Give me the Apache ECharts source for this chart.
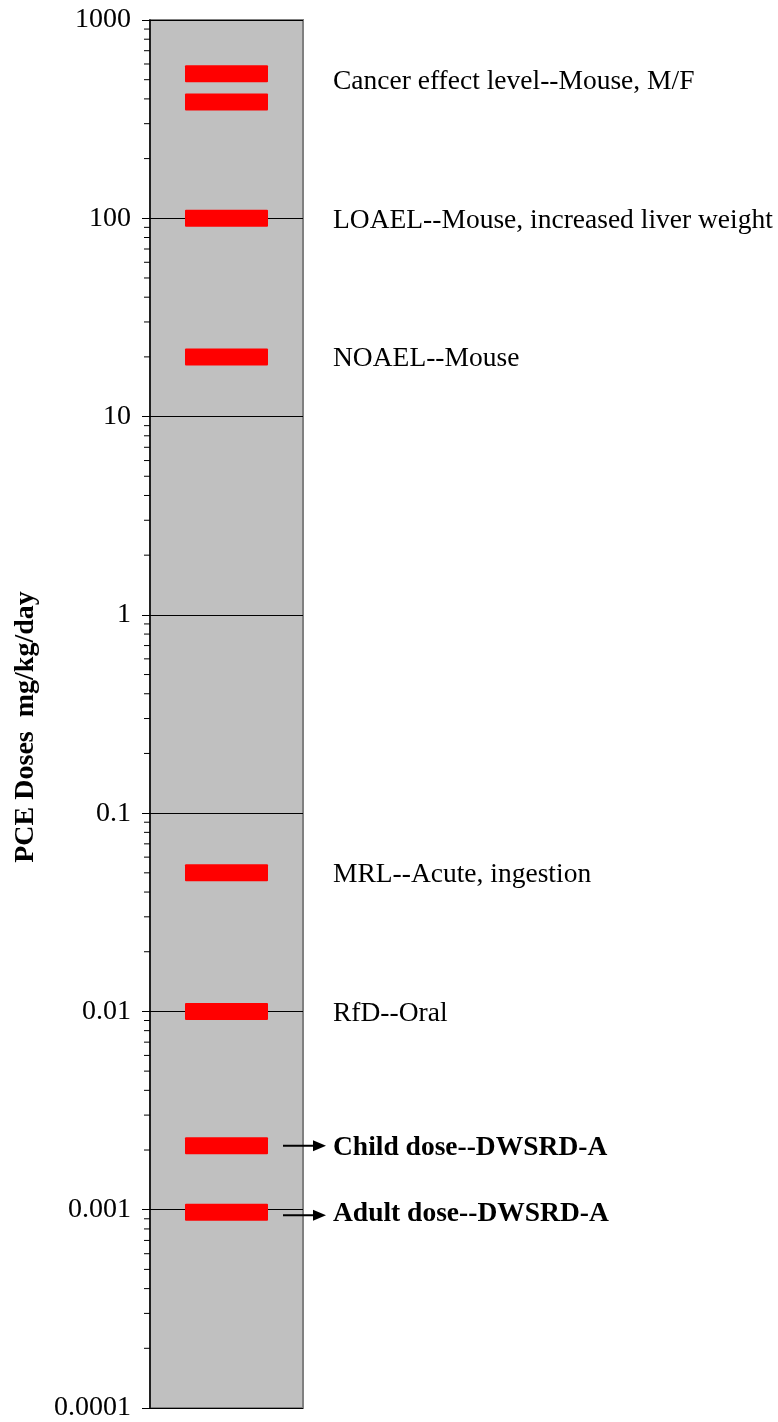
<!DOCTYPE html>
<html>
<head>
<meta charset="utf-8">
<script src="https://cdn.jsdelivr.net/npm/echarts@6/dist/echarts.min.js"></script>
<style>
html,body{margin:0;padding:0;background:#fff;}
#chart{width:778px;height:1422px;}
</style>
</head>
<body>
<div id="chart"></div>
<script>
// ---- data ----
const doseNames = ['Cancer effect level (M)', 'Cancer effect level (F)', 'LOAEL', 'NOAEL', 'MRL', 'RfD', 'Child dose', 'Adult dose'];
const doseValues = [536, 386, 100, 20, 0.05, 0.01, 0.0021, 0.00097];
const doseLabels = ['Cancer effect level--Mouse, M/F', '', 'LOAEL--Mouse, increased liver weight', 'NOAEL--Mouse', 'MRL--Acute, ingestion', 'RfD--Oral', 'Child dose--DWSRD-A', 'Adult dose--DWSRD-A'];
const siteDoseNames = ['Child dose', 'Adult dose'];
const tickValues = [0.0001, 0.001, 0.01, 0.1, 1, 10, 100, 1000];
const tickLabels = ['0.0001', '0.001', '0.01', '0.1', '1', '10', '100', '1000'];
const minorMultipliers = [2, 3, 4, 5, 6, 7, 8, 9];
const axisTitle = 'PCE Doses  mg/kg/day';

const FONT = "'Liberation Serif','Times New Roman',serif";

const minorTickValues = [];
tickValues.slice(0, -1).forEach(d => minorMultipliers.forEach(m => minorTickValues.push(d * m)));

function labelFor(v) {
  let best = 0, bd = Infinity;
  tickValues.forEach((t, i) => { const d = Math.abs(Math.log10(v) - Math.log10(t)); if (d < bd) { bd = d; best = i; } });
  return tickLabels[best];
}

const chart = echarts.init(document.getElementById('chart'), null, {renderer: 'canvas'});
chart.setOption({
  animation: false,
  backgroundColor: '#ffffff',
  grid: {left: 150, top: 20, width: 153, height: 1391, show: true, backgroundColor: '#c0c0c0', borderColor: '#808080', borderWidth: 2},
  xAxis: {type: 'category', data: [''], axisLine: {show: false}, axisTick: {show: false}, axisLabel: {show: false}, splitLine: {show: false}},
  yAxis: {
    type: 'log', logBase: 10, min: 0.0001, max: 1000, interval: 1,
    axisLine: {show: true, lineStyle: {color: '#000', width: 1.5}},
    axisTick: {show: true, inside: false, length: 8, lineStyle: {color: '#000', width: 1}},
    axisLabel: {show: true, margin: 19, color: '#000', fontFamily: FONT, fontSize: 28, padding: [7, 0, 0, 0], formatter: v => labelFor(v)},
    splitLine: {show: true, lineStyle: {color: '#000', width: 1}}
  },
  graphic: [{
    type: 'text', x: 26, y: 727, rotation: Math.PI / 2,
    style: {text: axisTitle, fontFamily: FONT, fontWeight: 'bold', fontSize: 28, fill: '#000', align: 'center', verticalAlign: 'middle'}
  }],
  series: [
    {
      type: 'custom', clip: false, silent: true,
      data: minorTickValues.map(v => [0, v]),
      renderItem: (params, api) => {
        const y = api.coord([0, api.value(1)])[1];
        const x0 = params.coordSys.x;
        return {type: 'line', shape: {x1: x0 - 6, y1: y, x2: x0, y2: y}, style: {stroke: '#000', lineWidth: 1}};
      }
    },
    {
      type: 'custom', clip: false, silent: true,
      data: doseValues.map((v, i) => [0, v, i]),
      renderItem: (params, api) => {
        const i = api.value(2);
        const p = api.coord([0, api.value(1)]);
        const cs = params.coordSys;
        const isSite = siteDoseNames.indexOf(doseNames[i]) >= 0;
        const children = [{
          type: 'rect', shape: {x: p[0] - 41.5, y: p[1] - 8.5, width: 83, height: 17, r: 1},
          style: {fill: '#ff0000'}
        }];
        const label = doseLabels[i];
        if (label) {
          const dy = i === 0 ? 6 : 0;
          children.push({
            type: 'text', x: 333, y: p[1] + dy + 2,
            style: {text: label, fontFamily: FONT, fontSize: 27.5, fontWeight: isSite ? 'bold' : 'normal', fill: '#000', align: 'left', verticalAlign: 'middle'}
          });
        }
        if (isSite) {
          const ay = p[1] + (i === 7 ? 3 : 0);
          const xs = cs.x + cs.width - 20, xe = 326;
          children.push({type: 'line', shape: {x1: xs, y1: ay, x2: xe - 10, y2: ay}, style: {stroke: '#000', lineWidth: 2}});
          children.push({type: 'polygon', shape: {points: [[xe - 13, ay - 5.5], [xe, ay], [xe - 13, ay + 5.5]]}, style: {fill: '#000'}});
        }
        return {type: 'group', children};
      }
    }
  ]
});
</script>
</body>
</html>
